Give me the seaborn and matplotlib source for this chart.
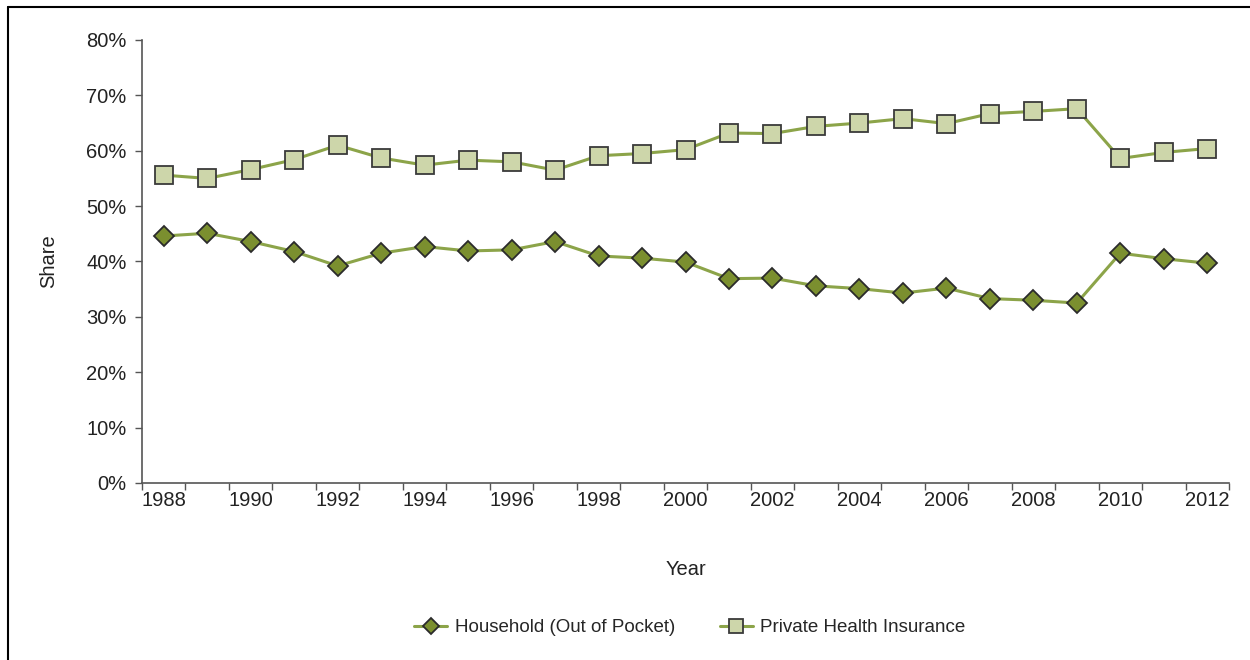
import numpy as np
import pandas as pd
import seaborn as sns
import matplotlib.pyplot as plt
from matplotlib.lines import Line2D

years = list(range(1988, 2013))
household = [44.6, 45.1, 43.6, 41.8, 39.2, 41.5, 42.7, 41.9, 42.1, 43.6, 41.0, 40.6,
             39.9, 36.9, 37.0, 35.6, 35.1, 34.3, 35.2, 33.3, 33.0, 32.5, 41.5, 40.5, 39.7]
private = [55.6, 55.0, 56.6, 58.4, 61.0, 58.7, 57.4, 58.3, 58.0, 56.5, 59.1, 59.5,
           60.2, 63.2, 63.1, 64.4, 65.0, 65.8, 64.9, 66.7, 67.1, 67.6, 58.6, 59.7, 60.4]
year_labels = [str(y) for y in range(1988, 2013, 2)]

df = pd.DataFrame({"Year": years, "Household (Out of Pocket)": household,
                   "Private Health Insurance": private})

sns.set_style("white")
plt.rcParams['font.family'] = ['Liberation Sans', 'DejaVu Sans']

fs = 14.5
line_col = "#8ca449"
fig = plt.figure(figsize=(12.5, 6.6), dpi=100)
ax = fig.add_axes([0.1136, 0.2682, 0.8696, 0.6712])

sns.lineplot(data=df, x="Year", y="Household (Out of Pocket)", ax=ax, color=line_col,
             linewidth=2.2, marker="D", markersize=10.5, markerfacecolor="#7b8f2f",
             markeredgecolor="#2b2b2b", markeredgewidth=1.3, label="Household (Out of Pocket)")
sns.lineplot(data=df, x="Year", y="Private Health Insurance", ax=ax, color=line_col,
             linewidth=2.2, marker="s", markersize=12.5, markerfacecolor="#cdd6aa",
             markeredgecolor="#3a3a3a", markeredgewidth=1.3, label="Private Health Insurance")

ax.set_xlim(1987.5, 2012.5)
ax.set_ylim(0, 80)
ax.set_yticks(range(0, 81, 10))
ax.set_yticklabels([f"{v}%" for v in range(0, 81, 10)])
ax.set_xticks(np.arange(1987.5, 2013, 1))
ax.set_xticklabels([])
ax.set_xticks(range(1988, 2013, 2), minor=True)
ax.set_xticklabels(year_labels, minor=True)
ax.tick_params(axis="x", which="major", direction="out", length=5, width=1, color="#555555", bottom=True)
ax.tick_params(axis="x", which="minor", length=0, pad=6, labelsize=fs, labelcolor="#222222")
ax.tick_params(axis="y", direction="out", length=5, width=1, color="#555555", left=True,
               labelsize=fs, labelcolor="#222222", pad=6)

sns.despine(ax=ax)
for s in ["left", "bottom"]:
    ax.spines[s].set_color("#555555")
    ax.spines[s].set_linewidth(1.2)

ax.set_xlabel("Year", fontsize=fs, color="#222222", labelpad=36)
ax.set_ylabel("Share", fontsize=fs, color="#222222", labelpad=20)

ax.legend(loc="center", bbox_to_anchor=(0.504, -0.327), ncol=2, frameon=False,
          fontsize=13.5, handlelength=1.75, columnspacing=2.4, handletextpad=0.4,
          markerscale=0.75)

# figure border (top and left edges)
fig.add_artist(Line2D([0.0065, 0.0065], [0, 0.99], transform=fig.transFigure, color="black", linewidth=1.5))
fig.add_artist(Line2D([0.0065, 1.0], [0.99, 0.99], transform=fig.transFigure, color="black", linewidth=1.5))

fig.savefig("out.png", dpi=100)
